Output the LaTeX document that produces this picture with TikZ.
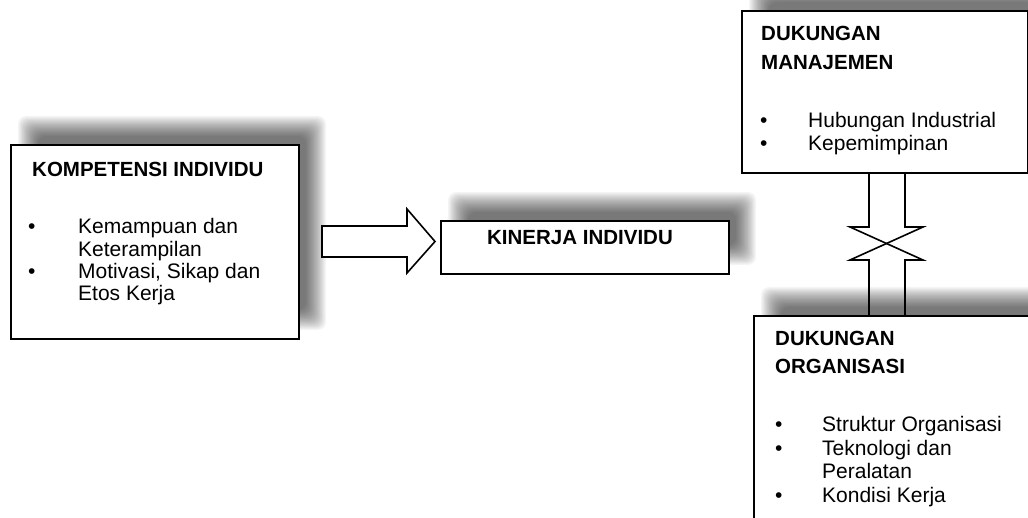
\documentclass[tikz,border=0pt]{standalone}
\usepackage{fontspec}
\setmainfont{Liberation Sans}
\newcommand\softshadow[4]{%
  \foreach \i in {0,...,15}{%
    \fill[black,opacity=0.045,rounded corners=8pt]
      (#1-10+\i*1.33,#2-10+\i*1.33) rectangle (#3+10-\i*1.33,#4+10-\i*1.33);
  }%
}
\begin{document}
\begin{tikzpicture}[x=1pt,y=-1pt,
  box/.style={draw=black,line width=1.8pt,fill=white,inner sep=0pt,anchor=north west},
  txt/.style={anchor=base west,inner sep=0pt,font=\fontsize{21}{23}\selectfont},
  btxt/.style={anchor=base west,inner sep=0pt,font=\fontsize{20.5}{23}\selectfont\bfseries},
  blk/.style={draw=black,line width=1.6pt,line join=miter}]
\clip (0,0) rectangle (1028,518);
\fill[white] (0,0) rectangle (1028,518);
% shadows
\softshadow{28}{126}{316}{320}
\softshadow{458}{202}{746}{255}
\softshadow{759}{-8}{1045}{154}
\softshadow{771}{297}{1118}{582}
% boxes
\node[box,minimum width=288pt,minimum height=194pt] (komp) at (10,144) {};
\node[box,minimum width=288pt,minimum height=53pt] (kin) at (440,220) {};
\node[box,minimum width=286pt,minimum height=162pt] (mgmt) at (741,10) {};
\node[box,minimum width=340pt,minimum height=260pt] (org) at (753,315) {};
% left box text
\node[btxt] (t1) at (32,177) {KOMPETENSI INDIVIDU};
\node[txt] (b1) at (28,234) {•};
\node[txt] (l1) at (78,234) {Kemampuan dan};
\node[txt] (l2) at (78,256.5) {Keterampilan};
\node[txt] (b2) at (28,278.5) {•};
\node[txt] (l3) at (78,278.5) {Motivasi, Sikap dan};
\node[txt] (l4) at (78,301) {Etos Kerja};
% kinerja
\node[btxt,anchor=base] (t2) at (580,245) {KINERJA INDIVIDU};
% top right
\node[btxt] (t3) at (761,40.7) {DUKUNGAN};
\node[btxt] (t4) at (761,69.3) {MANAJEMEN};
\node[txt] (b3) at (760,127.3) {•};
\node[txt] (m1) at (808,127.3) {Hubungan Industrial};
\node[txt] (b4) at (760,150.7) {•};
\node[txt] (m2) at (808,150.7) {Kepemimpinan};
% bottom right
\node[btxt] (t5) at (775,346) {DUKUNGAN};
\node[btxt] (t6) at (775,373.3) {ORGANISASI};
\node[txt] (b5) at (775,431.7) {•};
\node[txt] (o1) at (822,431.7) {Struktur Organisasi};
\node[txt] (b6) at (775,455) {•};
\node[txt] (o2) at (822,455) {Teknologi dan};
\node[txt] (o3) at (822,478.3) {Peralatan};
\node[txt] (b7) at (775,502.7) {•};
\node[txt] (o4) at (822,502.7) {Kondisi Kerja};
% block arrow komp -> kinerja
\coordinate (aS) at (322,241.5);
\coordinate (aT) at (435,241.5);
\draw[blk,fill=white] (aS |- 0,226) -- (407,226) -- (407,209) -- (aT) -- (407,273) -- (407,257) -- (aS |- 0,257) -- cycle;
% double block arrow between mgmt and org
\draw[blk] (869,0 |- mgmt.south) -- (869,227) -- (850,227) -- (923,260) -- (905,260) -- (905,0 |- org.north);
\draw[blk] (905,0 |- mgmt.south) -- (905,227) -- (923,227) -- (850,260) -- (869,260) -- (869,0 |- org.north);
\end{tikzpicture}
\end{document}
